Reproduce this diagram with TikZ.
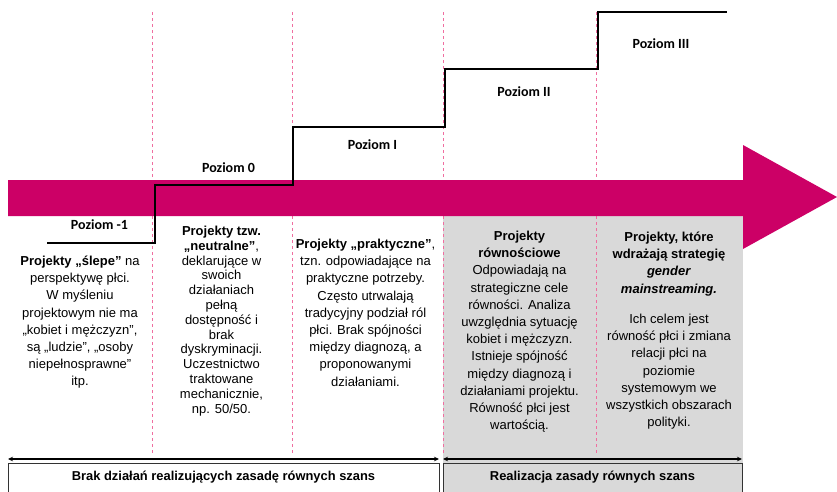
\documentclass[tikz,border=0pt]{standalone}
\usepackage{fontspec}
\setmainfont{Liberation Sans}
\newfontfamily\pozfont{Carlito}
\usetikzlibrary{arrows.meta}
\definecolor{magen}{RGB}{204,0,102}
\definecolor{pinkdash}{RGB}{240,110,160}
\definecolor{lgray}{RGB}{217,217,217}
\begin{document}
\begin{tikzpicture}[x=1pt,y=-1pt,
  body/.style={align=center,inner sep=0pt,anchor=base,font=\fontsize{13}{17.2}\selectfont},
  bodytight/.style={body,font=\fontsize{13}{14.8}\selectfont},
  level/.style={inner sep=0pt,anchor=base,font={\pozfont\bfseries\fontsize{14}{16}\selectfont}},
  foot/.style={inner sep=0pt,anchor=base,font={\bfseries\fontsize{12.9}{15}\selectfont}},
  divider/.style={pinkdash,line width=1pt,dash pattern=on 3pt off 3pt},
  stairs/.style={black,line width=2.5pt,line join=miter},
  span/.style={black,line width=1.4pt,{Stealth[length=5pt,width=4.5pt]}-{Stealth[length=5pt,width=4.5pt]}},
  footbox/.style={draw=black!80,line width=0.8pt}
]
\useasboundingbox (0,0) rectangle (837,491);
% grey area of the last two columns
\fill[lgray] (443,215) rectangle (743,491);
% dashed dividers
\foreach \xx in {152.5,292,443,596.5}
  \draw[divider] (\xx,12) -- (\xx,455);
% big arrow
\fill[magen] (8,180) -- (743,180) -- (743,145) -- (837,197) -- (743,249) -- (743,216) -- (8,216) -- cycle;
% staircase
\draw[stairs] (47,243) -- (155,243) -- (155,185) -- (293,185) -- (293,127) -- (445,127) -- (445,69) -- (598,69) -- (598,12) -- (727,12);
% level labels
\node[level] (pm1) at (99.5,229) {Poziom -1};
\node[level] (p0) at (228.5,172) {Poziom 0};
\node[level] (p1) at (372.5,149) {Poziom I};
\node[level] (p2) at (524,96) {Poziom II};
\node[level] (p3) at (661,48) {Poziom III};
% column texts (anchor base = baseline of the last line)
\node[body] (c1) at (80,385.8) {\textbf{Projekty „ślepe”} na\\perspektywę płci.\\W myśleniu\\projektowym nie ma\\„kobiet i mężczyzn”,\\są „ludzie”, „osoby\\niepełnosprawne”\\itp.};
\node[bodytight] (c2) at (221.5,413) {\textbf{Projekty tzw.}\\\textbf{„neutralne”},\\deklarujące w\\swoich\\działaniach\\pełną\\dostępność i\\brak\\dyskryminacji.\\Uczestnictwo\\traktowane\\mechanicznie,\\np. 50/50.};
\node[body] (c3) at (365.5,386) {\textbf{Projekty „praktyczne”},\\tzn. odpowiadające na\\praktyczne potrzeby.\\Często utrwalają\\tradycyjny podział ról\\płci. Brak spójności\\między diagnozą, a\\proponowanymi\\działaniami.};
\node[body] (c4) at (519.5,429.6) {\textbf{Projekty}\\\textbf{równościowe}\\Odpowiadają na\\strategiczne cele\\równości. Analiza\\uwzględnia sytuację\\kobiet i mężczyzn.\\Istnieje spójność\\między diagnozą i\\działaniami projektu.\\Równość płci jest\\wartością.};
\node[body] (c5a) at (669,293) {\textbf{Projekty, które}\\\textbf{wdrażają strategię}\\\textbf{\textit{gender}}\\\textbf{\textit{mainstreaming.}}};
\node[body] (c5b) at (669,426.6) {Ich celem jest\\równość płci i zmiana\\relacji płci na\\poziomie\\systemowym we\\wszystkich obszarach\\polityki.};
% bottom spans
\coordinate (la) at (8,459);
\coordinate (lb) at (439,459);
\coordinate (ra) at (443,459);
\coordinate (rb) at (742,459);
\draw[span] (la) -- (lb);
\draw[span] (ra) -- (rb);
\draw[footbox] (8,463) rectangle (439,500);
\draw[footbox,fill=lgray] (443,463) rectangle (742,500);
\node[foot] (f1) at (223.5,480) {Brak działań realizujących zasadę równych szans};
\node[foot] (f2) at (592.5,480) {Realizacja zasady równych szans};
\end{tikzpicture}
\end{document}
